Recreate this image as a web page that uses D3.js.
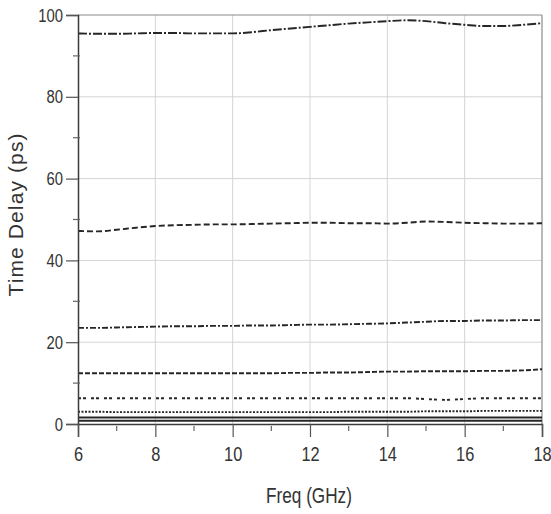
<!DOCTYPE html>
<html>
<head>
<meta charset="utf-8">
<script src="https://cdn.jsdelivr.net/npm/d3@7"></script>
<style>
  html, body { margin: 0; padding: 0; background: #fff; }
  svg { display: block; }
</style>
</head>
<body>
<svg id="chart" width="551" height="514"></svg>
<script>
// Frequency sweep (GHz), sampled every 0.5 GHz
const freq = [6, 6.5, 7, 7.5, 8, 8.5, 9, 9.5, 10, 10.5, 11, 11.5, 12,
              12.5, 13, 13.5, 14, 14.5, 15, 15.5, 16, 16.5, 17, 17.5, 18];

// Measured time delay (ps) for each delay state
const delay100 = [95.5, 95.4, 95.4, 95.5, 95.6, 95.6, 95.5, 95.5, 95.5, 95.8, 96.3, 96.7, 97.1,
                  97.5, 97.9, 98.2, 98.5, 98.7, 98.5, 98.0, 97.6, 97.3, 97.3, 97.6, 98.0];
const delay50  = [47.2, 47.1, 47.5, 48.0, 48.4, 48.6, 48.7, 48.8, 48.8, 48.9, 49.0, 49.1, 49.2,
                  49.2, 49.1, 49.1, 49.0, 49.2, 49.5, 49.4, 49.2, 49.1, 49.0, 49.0, 49.1];
const delay25  = [23.5, 23.5, 23.6, 23.7, 23.8, 23.9, 23.9, 24.0, 24.0, 24.1, 24.1, 24.2, 24.3,
                  24.3, 24.4, 24.5, 24.6, 24.8, 25.0, 25.2, 25.2, 25.3, 25.3, 25.4, 25.4];
const delay12  = [12.4, 12.4, 12.4, 12.4, 12.4, 12.4, 12.4, 12.4, 12.4, 12.4, 12.4, 12.5, 12.5,
                  12.6, 12.6, 12.7, 12.8, 12.8, 12.9, 12.9, 12.9, 13.0, 13.0, 13.1, 13.4];
const delay6   = [6.3, 6.3, 6.3, 6.3, 6.3, 6.3, 6.3, 6.3, 6.3, 6.3, 6.3, 6.3, 6.3,
                  6.3, 6.3, 6.3, 6.3, 6.3, 6.1, 5.9, 6.1, 6.3, 6.3, 6.3, 6.3];
const delay3   = [3.0, 3.0, 2.9, 2.9, 2.9, 2.9, 2.9, 2.9, 2.9, 2.9, 2.9, 2.9, 2.9,
                  2.9, 3.0, 3.0, 3.0, 3.0, 3.1, 3.1, 3.1, 3.2, 3.2, 3.2, 3.2];
const delay1p6 = [1.6, 1.6, 1.6, 1.6, 1.6, 1.6, 1.6, 1.6, 1.6, 1.6, 1.6, 1.6, 1.6,
                  1.6, 1.6, 1.6, 1.6, 1.6, 1.6, 1.6, 1.6, 1.6, 1.6, 1.6, 1.6];
const delay0p8 = [0.8, 0.8, 0.8, 0.8, 0.8, 0.8, 0.8, 0.8, 0.8, 0.8, 0.8, 0.8, 0.8,
                  0.8, 0.8, 0.8, 0.8, 0.8, 0.8, 0.8, 0.8, 0.8, 0.8, 0.8, 0.8];

// Axis ticks
const xMajor = [6, 8, 10, 12, 14, 16, 18];
const xMinor = [7, 9, 11, 13, 15, 17];
const yMajor = [0, 20, 40, 60, 80, 100];
const yMinor = [10, 30, 50, 70, 90];

const xLabel = "Freq (GHz)";
const yLabel = "Time Delay (ps)";

// Each delay state with its own line pattern
const series = [
  { values: delay100, dash: "9,2,2,2" },
  { values: delay50,  dash: "6,3" },
  { values: delay25,  dash: "6,2,2,2" },
  { values: delay12,  dash: "5,2" },
  { values: delay6,   dash: "3,2,3,5" },
  { values: delay3,   dash: "2,1.5" },
  { values: delay1p6, dash: null },
  { values: delay0p8, dash: null }
];

const svg = d3.select("#chart");
const plotL = 78, plotR = 542, plotT = 15, plotB = 424;

const x = d3.scaleLinear().domain([6, 18]).range([plotL, plotR]);
const y = d3.scaleLinear().domain([0, 100]).range([plotB, plotT]);

const FONT = "'Liberation Sans', Arial, sans-serif";
const SQUEEZE = 0.78;

// Grid
const grid = svg.append("g");
grid.selectAll("line.gx").data(xMajor.slice(1, -1)).join("line")
  .attr("x1", d => x(d)).attr("x2", d => x(d))
  .attr("y1", plotT).attr("y2", plotB)
  .attr("stroke", "#d4d4d4").attr("stroke-width", 1);
grid.selectAll("line.gy").data(yMajor.slice(1, -1)).join("line")
  .attr("x1", plotL).attr("x2", plotR)
  .attr("y1", d => y(d)).attr("y2", d => y(d))
  .attr("stroke", "#d4d4d4").attr("stroke-width", 1);

// Top and right frame
svg.append("line").attr("x1", plotL).attr("x2", plotR).attr("y1", plotT).attr("y2", plotT)
  .attr("stroke", "#8a8a8a").attr("stroke-width", 1.2);
svg.append("line").attr("x1", plotR).attr("x2", plotR).attr("y1", plotT).attr("y2", plotB)
  .attr("stroke", "#8a8a8a").attr("stroke-width", 1.2);

// Curves
const line = d3.line()
  .x((d, i) => x(freq[i]))
  .y(d => y(d))
  .curve(d3.curveMonotoneX);

svg.append("g").selectAll("path").data(series).join("path")
  .attr("d", s => line(s.values))
  .attr("fill", "none")
  .attr("stroke", "#262626")
  .attr("stroke-width", 1.9)
  .attr("stroke-dasharray", s => s.dash);

// Y axis: major ticks with labels
const yAxis = svg.append("g")
  .attr("transform", `translate(${plotL},0)`)
  .call(d3.axisLeft(y).tickValues(yMajor).tickSize(12).tickPadding(3).tickFormat(d3.format("d")));
yAxis.select(".domain").attr("stroke", "#3a3a3a").attr("stroke-width", 1.5);
yAxis.selectAll(".tick line").attr("stroke", "#555").attr("stroke-width", 1.2);
yAxis.selectAll(".tick text")
  .attr("font-family", FONT).attr("font-size", 19).attr("fill", "#333")
  .attr("x", -15 / SQUEEZE)
  .attr("transform", `scale(${SQUEEZE},1)`);

// Y axis: minor ticks
svg.append("g").selectAll("line").data(yMinor).join("line")
  .attr("x1", plotL - 5).attr("x2", plotL + 2)
  .attr("y1", d => y(d)).attr("y2", d => y(d))
  .attr("stroke", "#666").attr("stroke-width", 1.2);

// X axis: major ticks with labels
const xAxis = svg.append("g")
  .attr("transform", `translate(0,${plotB})`)
  .call(d3.axisBottom(x).tickValues(xMajor).tickSize(13).tickPadding(9).tickFormat(d3.format("d")));
xAxis.select(".domain").attr("stroke", "#3a3a3a").attr("stroke-width", 1.5);
xAxis.selectAll(".tick line").attr("stroke", "#555").attr("stroke-width", 1.2);
xAxis.selectAll(".tick text")
  .attr("font-family", FONT).attr("font-size", 21).attr("fill", "#333")
  .attr("transform", `scale(${SQUEEZE},1)`);

// X axis: minor ticks
svg.append("g").selectAll("line").data(xMinor).join("line")
  .attr("x1", d => x(d)).attr("x2", d => x(d))
  .attr("y1", plotB + 2).attr("y2", plotB + 7)
  .attr("stroke", "#666").attr("stroke-width", 1.2);

// Axis titles
svg.append("text")
  .attr("transform", `translate(${(plotL + plotR) / 2 - 1},503) scale(${SQUEEZE},1)`)
  .attr("text-anchor", "middle")
  .attr("font-family", FONT).attr("font-size", 22).attr("fill", "#333")
  .text(xLabel);

svg.append("text")
  .attr("transform", `translate(23,215) rotate(-90)`)
  .attr("text-anchor", "middle")
  .attr("font-family", FONT).attr("font-size", 21).attr("fill", "#333")
  .attr("textLength", 163).attr("lengthAdjust", "spacing")
  .text(yLabel);
</script>
</body>
</html>
